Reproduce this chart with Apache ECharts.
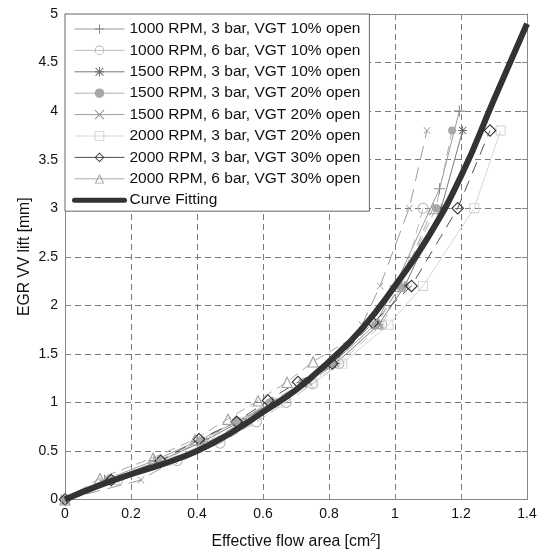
<!DOCTYPE html>
<html><head><meta charset="utf-8">
<script src="https://cdn.jsdelivr.net/npm/echarts@6/dist/echarts.min.js"></script>
<style>html,body{margin:0;padding:0;background:#fff}#c{width:548px;height:555px}</style>
</head><body><div id="c"></div>
<script>
// ---- data ----
const seriesNames = [
  '1000 RPM, 3 bar, VGT 10% open',
  '1000 RPM, 6 bar, VGT 10% open',
  '1500 RPM, 3 bar, VGT 10% open',
  '1500 RPM, 3 bar, VGT 20% open',
  '1500 RPM, 6 bar, VGT 20% open',
  '2000 RPM, 3 bar, VGT 20% open',
  '2000 RPM, 3 bar, VGT 30% open',
  '2000 RPM, 6 bar, VGT 30% open'
];
const fitName = 'Curve Fitting';
const s1x = [0, 0.12, 0.27, 0.40, 0.52, 0.63, 0.73, 0.81, 0.94, 1.00, 1.135, 1.195];
const s1y = [0, 0.2, 0.4, 0.6, 0.8, 1.0, 1.2, 1.4, 1.8, 2.2, 3.2, 4.0];
const s2x = [0, 0.16, 0.34, 0.47, 0.58, 0.67, 0.75, 0.83, 0.96, 1.02, 1.085];
const s2y = [0, 0.2, 0.4, 0.58, 0.8, 1.0, 1.19, 1.4, 1.8, 2.2, 3.0];
const s3x = [0, 0.13, 0.29, 0.42, 0.53, 0.63, 0.72, 0.82, 0.95, 1.03, 1.14, 1.205];
const s3y = [0, 0.2, 0.4, 0.6, 0.8, 1.0, 1.2, 1.4, 1.8, 2.2, 3.0, 3.8];
const s4x = [0, 0.13, 0.29, 0.41, 0.52, 0.62, 0.72, 0.81, 0.94, 1.015, 1.124, 1.173];
const s4y = [0, 0.2, 0.4, 0.6, 0.8, 1.0, 1.2, 1.4, 1.8, 2.2, 3.0, 3.8];
const s5x = [0, 0.23, 0.33, 0.44, 0.54, 0.64, 0.74, 0.82, 0.90, 0.955, 1.043, 1.097];
const s5y = [0, 0.2, 0.4, 0.6, 0.8, 1.0, 1.2, 1.4, 1.8, 2.2, 3.0, 3.8];
const s6x = [0, 0.15, 0.31, 0.44, 0.55, 0.65, 0.75, 0.84, 0.98, 1.085, 1.24, 1.32];
const s6y = [0, 0.2, 0.4, 0.6, 0.8, 1.0, 1.2, 1.4, 1.8, 2.2, 3.0, 3.8];
const s7x = [0, 0.14, 0.29, 0.406, 0.52, 0.615, 0.706, 0.81, 0.933, 1.05, 1.19, 1.288];
const s7y = [0, 0.2, 0.4, 0.62, 0.8, 1.02, 1.21, 1.4, 1.82, 2.2, 3.0, 3.8];
const s8x = [0, 0.106, 0.267, 0.394, 0.494, 0.585, 0.673, 0.752, 0.948, 1.015, 1.115];
const s8y = [0, 0.22, 0.43, 0.62, 0.83, 1.02, 1.21, 1.42, 1.82, 2.2, 3.0];
const fitX = [0, 0.1, 0.2, 0.3, 0.4, 0.5, 0.6, 0.7, 0.8, 0.9, 1.0, 1.1, 1.2, 1.3, 1.4];
const fitY = [0, 0.14, 0.26, 0.37, 0.5, 0.68, 0.9, 1.13, 1.42, 1.76, 2.2, 2.7, 3.33, 4.12, 4.9];
const xTicks = [0, 0.2, 0.4, 0.6, 0.8, 1, 1.2, 1.4];
const yTicks = [0, 0.5, 1, 1.5, 2, 2.5, 3, 3.5, 4, 4.5, 5];

// ---- styling ----
const PLUS = 'path://M4.5,0H5.5V10H4.5Z M0,4.5H10V5.5H0Z';
const CROSS = 'path://M0.7,0L5,4.3L9.3,0L10,0.7L5.7,5L10,9.3L9.3,10L5,5.7L0.7,10L0,9.3L4.3,5L0,0.7Z';
const STAR = 'path://M4.5,0H5.5V10H4.5Z M0,4.5H10V5.5H0Z M1.3,0.6L5,4.3L8.7,0.6L9.4,1.3L5.7,5L9.4,8.7L8.7,9.4L5,5.7L1.3,9.4L0.6,8.7L4.3,5L0.6,1.3Z';
const RING = 'path://M5,0A5,5,0,1,1,5,10A5,5,0,1,1,5,0Z M5,0.9A4.1,4.1,0,1,0,5,9.1A4.1,4.1,0,1,0,5,0.9Z';
const SQUARE = 'path://M0,0H10V10H0Z M0.9,0.9V9.1H9.1V0.9Z';
const DIAMOND = 'path://M5,0L10,5L5,10L0,5Z M5,1.2L1.2,5L5,8.8L8.8,5Z';
const TRIANGLE = 'path://M5,0L10,9L0,9Z M5,1.9L1.5,8.2L8.5,8.2Z';
const styles = [
  {sym: PLUS, size: 11, color: '#8a8a8a', line: '#9a9a9a', dash: 'solid'},
  {sym: RING, size: 11, color: '#b4b4b4', line: '#bdbdbd', dash: [10, 6]},
  {sym: STAR, size: 9, color: '#6a6a6a', line: '#7a7a7a', dash: 'solid'},
  {sym: 'circle', size: 8, color: '#a8a8a8', line: '#b0b0b0', dash: [10, 6]},
  {sym: CROSS, size: 7, color: '#909090', line: '#9c9c9c', dash: [14, 8]},
  {sym: SQUARE, size: 10, color: '#d0d0d0', line: '#d6d6d6', dash: 'solid'},
  {sym: DIAMOND, size: 13, color: '#2e2e2e', line: '#505050', dash: [12, 8]},
  {sym: TRIANGLE, size: 12, color: '#a0a0a0', line: '#aaaaaa', dash: [10, 6]}
];
const xs = [s1x, s2x, s3x, s4x, s5x, s6x, s7x, s8x];
const ys = [s1y, s2y, s3y, s4y, s5y, s6y, s7y, s8y];
const zip = (a, b) => a.map((v, i) => [v, b[i]]);

const series = seriesNames.map((name, i) => ({
  name, type: 'line', data: zip(xs[i], ys[i]),
  symbol: styles[i].sym, symbolSize: styles[i].size, showSymbol: true,
  itemStyle: {color: styles[i].color, borderWidth: 0},
  lineStyle: {color: styles[i].line, width: 1, type: styles[i].dash},
  animation: false, z: 3
}));
series.push({
  name: fitName, type: 'line', data: zip(fitX, fitY), smooth: true,
  showSymbol: false, symbol: 'none',
  lineStyle: {color: '#333', width: 6}, itemStyle: {color: '#333'},
  animation: false, z: 4
});

const legendData = seriesNames.map((n, i) => ({
  name: n, lineStyle: {width: 1, color: styles[i].line, type: 'solid'},
  itemStyle: {color: styles[i].color, borderWidth: 0}
}));
legendData.push({name: fitName, lineStyle: {width: 5, color: '#333', type: 'solid', cap: 'round'},
  itemStyle: {opacity: 0}});

const fontFamily = '"Liberation Sans", Arial, sans-serif';
const gridLine = {show: true, lineStyle: {color: '#7a7a7a', type: [6, 4], width: 1}};
const axisLine = {show: true, onZero: false, lineStyle: {color: '#888', width: 1}};
const tick = {show: true, inside: true, length: 5, lineStyle: {color: '#888'}};

const chart = echarts.init(document.getElementById('c'), null, {renderer: 'canvas'});
chart.setOption({
  animation: false,
  backgroundColor: '#fff',
  grid: {left: 65, right: 21, top: 14, bottom: 51, containLabel: false},
  legend: {
    orient: 'vertical', left: 65, top: 14,
    data: legendData,
    itemWidth: 50, itemHeight: 12, itemGap: 5.4,
    padding: [7, 9, 3, 7],
    backgroundColor: '#fff', borderColor: '#666', borderWidth: 1, borderRadius: 0,
    textStyle: {fontSize: 15.5, color: '#111', fontFamily},
    selectedMode: false, z: 10
  },
  xAxis: [
    {type: 'value', min: 0, max: 1.4, interval: 0.2, position: 'bottom',
     axisLine, axisTick: tick, splitLine: gridLine,
     axisLabel: {fontSize: 14, color: '#111', margin: 8, fontFamily,
       formatter: v => { const t = xTicks.find(q => Math.abs(q - v) < 1e-6); return t === undefined ? '' : String(t); }},
     name: 'Effective flow area [cm{sup|2}]', nameLocation: 'middle', nameGap: 33,
     nameTextStyle: {fontSize: 15.8, color: '#111', fontFamily,
       rich: {sup: {fontSize: 11, verticalAlign: 'top', padding: [0, 0, 8, 0], color: '#111', fontFamily}}}},
    {type: 'value', min: 0, max: 1.4, interval: 0.2, position: 'top',
     axisLine, axisTick: tick, splitLine: {show: false}, axisLabel: {show: false}}
  ],
  yAxis: [
    {type: 'value', min: 0, max: 5, interval: 0.5, position: 'left',
     axisLine, axisTick: tick, splitLine: gridLine,
     axisLabel: {fontSize: 14, color: '#111', margin: 7, fontFamily,
       formatter: v => { const t = yTicks.find(q => Math.abs(q - v) < 1e-6); return t === undefined ? '' : String(t); }},
     name: 'EGR VV lift [mm]', nameLocation: 'middle', nameGap: 32, nameRotate: 90,
     nameMoveOverlap: false,
     nameTextStyle: {fontSize: 15.7, color: '#111', fontFamily}},
    {type: 'value', min: 0, max: 5, interval: 0.5, position: 'right',
     axisLine, axisTick: tick, splitLine: {show: false}, axisLabel: {show: false}}
  ],
  series
});
</script>
</body></html>
